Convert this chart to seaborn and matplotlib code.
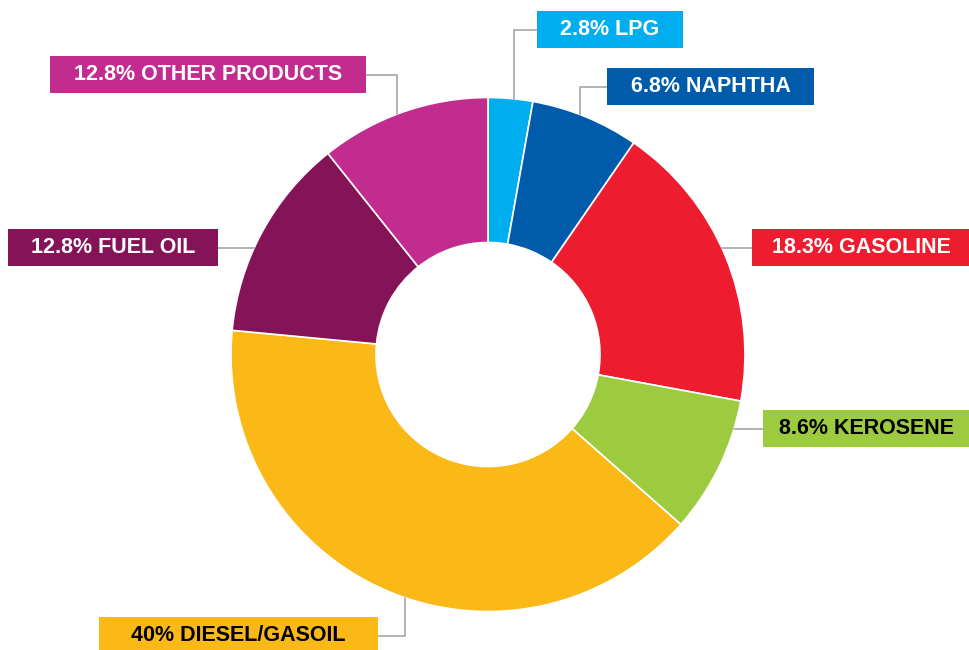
import matplotlib.pyplot as plt
import matplotlib.patches as mpatches
import seaborn as sns
import numpy as np

# Data (clockwise from 12 o'clock)
products = ['LPG', 'NAPHTHA', 'GASOLINE', 'KEROSENE', 'DIESEL/GASOIL', 'FUEL OIL', 'OTHER PRODUCTS']
shares = [2.8, 6.8, 18.3, 8.6, 40, 12.8, 12.8]
share_labels = ['2.8%', '6.8%', '18.3%', '8.6%', '40%', '12.8%', '12.8%']
colors = ['#00AEEF', '#005BAA', '#ED1C2E', '#9DCB3F', '#FBB917', '#841457', '#C32C8F']
text_colors = ['white', 'white', 'white', 'black', 'black', 'white', 'white']

sns.set_theme(style='white')
plt.rcParams['font.family'] = ['Liberation Sans', 'DejaVu Sans']
palette = sns.color_palette(colors)

# the labels add up to more than 100%; the drawn ring closes at 100%,
# so the last wedge only gets what is left
drawn = shares[:-1] + [100 - sum(shares[:-1])]
fracs = [v / 100 for v in drawn]

W, H = 970, 650
fig = plt.figure(figsize=(9.7, 6.5), dpi=100)
ax = fig.add_axes([0, 0, 1, 1])

cx, cy = 488, H - 354.5
R, r_in = 257, 112
ax.pie(fracs, colors=palette, startangle=90, counterclock=False, normalize=False,
       radius=R, center=(cx, cy), frame=True,
       wedgeprops=dict(width=R - r_in, edgecolor='white', linewidth=1.2))
ax.set_xlim(0, W)
ax.set_ylim(0, H)
ax.set_aspect('equal')
ax.axis('off')

# label boxes: left, right, top (pixels, top-origin), elbow x (None = straight)
boxes = [
    (537, 683, 11, 514),
    (607, 814, 68, 580),
    (752, 975, 229, None),
    (763, 975, 410, None),
    (99, 378, 617, 405),
    (8, 218, 229, None),
    (50, 366, 56, 397),
]
box_h = 37
line_col = '#A6A6A6'

for i, (x0, x1, top, elbow) in enumerate(boxes):
    yb = H - top - box_h
    ax.add_patch(mpatches.Rectangle((x0, yb), x1 - x0, box_h, facecolor=colors[i],
                                    edgecolor='none', zorder=3))
    xt = (x0 + min(x1, W)) / 2
    ax.text(xt, yb + box_h / 2, f'{share_labels[i]} {products[i]}', ha='center', va='center',
            color=text_colors[i], fontsize=15.5, fontweight='bold', zorder=4)
    ym = yb + box_h / 2
    # side of box facing the donut
    xs = x0 if x0 > cx else x1
    if elbow is None:
        dy = ym - cy
        xe = cx + np.sign(xs - cx) * np.sqrt(R ** 2 - dy ** 2)
        ax.plot([xs, xe], [ym, ym], color=line_col, lw=1.2, zorder=2)
    else:
        dx = elbow - cx
        ye = cy + np.sign(ym - cy) * np.sqrt(R ** 2 - dx ** 2)
        ax.plot([xs, elbow, elbow], [ym, ym, ye], color=line_col, lw=1.2, zorder=2)

fig.savefig('out.png', dpi=100, facecolor='white')
